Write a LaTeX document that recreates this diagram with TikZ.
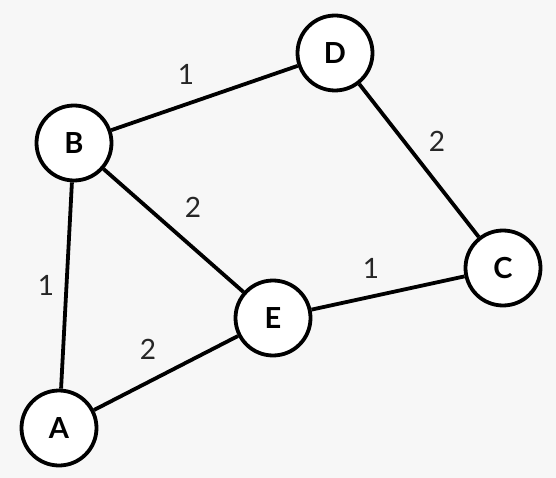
\documentclass[tikz,border=0pt]{standalone}
\usepackage{fontspec}
\setmainfont{Lato}
\begin{document}
\begin{tikzpicture}[x=1pt,y=-1pt,
  vtx/.style={circle,draw=black,line width=3.8pt,fill=white,minimum size=75pt,inner sep=0pt,font=\fontsize{29}{29}\selectfont\bfseries},
  edge/.style={line width=3.8pt,draw=black},
  wlab/.style={font=\fontsize{28}{28}\selectfont,text=black!85}]
\fill[black!3] (0,0) rectangle (556,478);
\useasboundingbox (0,0) rectangle (556,478);
\node[vtx] (B) at (74,143) {B};
\node[vtx] (D) at (335,53) {D};
\node[vtx] (C) at (503,268) {C};
\node[vtx] (E) at (273,318) {E};
\node[vtx] (A) at (59,428) {A};
\draw[edge] (B) -- (D);
\draw[edge] (D) -- (C);
\draw[edge] (B) -- (E);
\draw[edge] (E) -- (C);
\draw[edge] (B) -- (A);
\draw[edge] (A) -- (E);
\node[wlab] (l1) at (186,74) {1};
\node[wlab] (l2) at (437,141) {2};
\node[wlab] (l3) at (193,207) {2};
\node[wlab] (l4) at (371,268) {1};
\node[wlab] (l5) at (46,285) {1};
\node[wlab] (l6) at (148,349) {2};
\end{tikzpicture}
\end{document}
